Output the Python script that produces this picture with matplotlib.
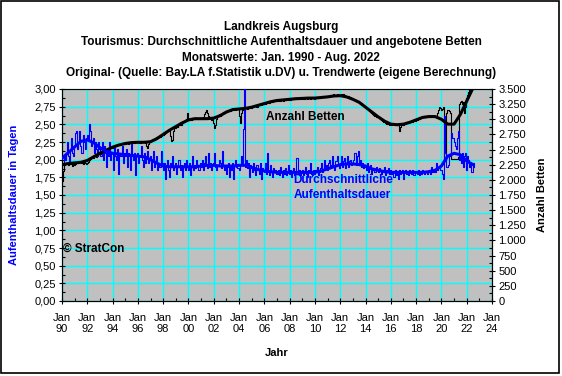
import matplotlib
matplotlib.use("Agg")
import matplotlib.pyplot as plt
import numpy as np
from matplotlib.ticker import FuncFormatter, MultipleLocator

plt.rcParams['font.family'] = ['Liberation Sans', 'DejaVu Sans']

# Monatswerte Jan 1990 - Aug 2022: durchschnittliche Aufenthaltsdauer (Tage)
dauer = [
    1.92, 1.95, 2.05, 2.00, 2.10, 2.25, 2.05, 1.95, 2.15, 2.30, 2.10, 2.05,  # 1990
    2.20, 2.38, 2.40, 2.15, 2.25, 2.40, 2.20, 2.10, 2.35, 2.25, 2.15, 2.30,  # 1991
    2.35, 2.28, 2.50, 2.40, 2.20, 2.25, 2.30, 2.10, 2.25, 2.15, 2.05, 2.25,  # 1992
    2.15, 2.05, 2.25, 2.00, 2.20, 2.10, 1.90, 2.15, 2.05, 2.25, 2.00, 2.10,  # 1993
    2.10, 1.85, 2.20, 2.05, 2.00, 2.15, 1.80, 2.10, 2.05, 2.20, 1.95, 2.10,  # 1994
    2.05, 2.15, 1.90, 2.10, 2.05, 1.85, 2.25, 2.05, 2.00, 2.10, 1.78, 2.05,  # 1995
    2.10, 1.95, 2.05, 2.20, 2.00, 1.90, 2.10, 1.95, 2.05, 2.12, 1.95, 2.00,  # 1996
    2.05, 1.85, 2.00, 2.12, 1.90, 1.95, 2.05, 1.85, 1.95, 1.90, 2.12, 1.95,  # 1997
    1.85, 1.95, 1.72, 1.90, 2.00, 1.85, 1.75, 1.95, 1.90, 2.05, 1.85, 1.90,  # 1998
    1.95, 1.80, 1.90, 2.00, 1.85, 1.92, 1.75, 1.90, 1.95, 1.85, 2.00, 1.90,  # 1999
    1.85, 1.95, 1.78, 1.90, 2.05, 1.85, 1.92, 1.88, 2.00, 1.90, 1.85, 1.95,  # 2000
    1.90, 2.00, 1.85, 1.95, 2.05, 1.92, 1.88, 2.10, 1.90, 1.95, 1.85, 1.92,  # 2001
    1.95, 2.10, 1.90, 1.85, 1.92, 2.00, 1.95, 1.88, 2.12, 1.92, 1.85, 1.90,  # 2002
    1.80, 1.90, 1.95, 1.75, 1.92, 1.85, 1.95, 1.72, 1.92, 2.00, 1.90, 1.88,  # 2003
    1.85, 1.92, 2.05, 1.95, 2.44, 3.10, 1.90, 2.00, 1.88, 1.95, 1.75, 1.92,  # 2004
    1.90, 1.82, 1.95, 1.85, 1.78, 1.92, 1.85, 1.80, 1.95, 1.72, 1.88, 1.85,  # 2005
    1.82, 1.95, 1.80, 2.10, 1.85, 1.78, 1.92, 1.82, 1.75, 1.88, 1.82, 1.85,  # 2006
    1.80, 1.85, 1.78, 1.90, 1.82, 1.75, 1.85, 1.80, 1.88, 1.78, 1.82, 1.92,  # 2007
    1.80, 1.85, 1.75, 1.82, 1.88, 1.78, 1.82, 2.02, 1.80, 1.85, 1.78, 1.82,  # 2008
    1.85, 1.78, 1.82, 1.90, 1.80, 1.75, 1.85, 1.82, 1.95, 1.80, 1.78, 1.85,  # 2009
    1.80, 1.85, 1.90, 1.78, 1.82, 1.88, 1.95, 1.82, 1.85, 2.00, 1.88, 1.92,  # 2010
    1.85, 1.95, 2.00, 1.88, 1.92, 2.05, 1.90, 1.85, 1.98, 2.05, 1.92, 1.88,  # 2011
    1.95, 2.05, 1.90, 1.98, 2.02, 1.88, 1.95, 2.05, 1.90, 1.98, 2.00, 1.92,  # 2012
    1.95, 2.00, 2.10, 1.92, 2.05, 2.12, 1.95, 2.00, 1.90, 1.95, 1.88, 1.92,  # 2013
    1.90, 1.85, 1.95, 1.82, 1.88, 1.92, 1.80, 1.85, 1.88, 1.82, 1.90, 1.85,  # 2014
    1.82, 1.88, 1.85, 1.80, 1.85, 1.82, 1.90, 1.78, 1.85, 1.82, 1.88, 1.80,  # 2015
    1.85, 1.80, 1.82, 1.75, 1.85, 1.78, 1.82, 1.72, 1.85, 1.80, 1.82, 1.85,  # 2016
    1.72, 1.82, 1.85, 1.80, 1.82, 1.78, 1.85, 1.82, 1.80, 1.85, 1.78, 1.82,  # 2017
    1.82, 1.80, 1.85, 1.78, 1.82, 1.80, 1.85, 1.82, 1.80, 1.83, 1.82, 1.80,  # 2018
    1.82, 1.85, 1.80, 1.90, 1.83, 1.85, 1.82, 1.95, 1.85, 1.90, 1.88, 1.85,  # 2019
    1.85, 1.80, 1.72, 2.62, 2.10, 1.90, 1.90, 1.92, 2.07, 2.05, 2.38, 2.30,  # 2020
    2.25, 2.20, 2.15, 2.30, 2.40, 2.00, 2.05, 1.95, 2.10, 1.90, 2.05, 2.10,  # 2021
    1.85, 2.05, 2.00, 1.90, 1.95, 1.82, 1.95, 1.90,                          # 2022
]

# Monatswerte Jan 1990 - Aug 2022: angebotene Betten
betten = [
    1980, 2150, 2240, 2260, 2280, 2270, 2250, 2260, 2280, 2270, 2230, 2260,  # 1990
    2250, 2270, 2290, 2300, 2280, 2290, 2300, 2280, 2270, 2300, 2280, 2260,  # 1991
    2280, 2300, 2320, 2350, 2370, 2380, 2360, 2390, 2400, 2380, 2390, 2420,  # 1992
    2430, 2420, 2450, 2480, 2500, 2470, 2490, 2510, 2500, 2520, 2530, 2540,  # 1993
    2520, 2550, 2560, 2580, 2570, 2590, 2580, 2600, 2590, 2610, 2600, 2610,  # 1994
    2600, 2610, 2620, 2600, 2630, 2620, 2610, 2630, 2620, 2610, 2630, 2620,  # 1995
    2620, 2640, 2610, 2630, 2620, 2640, 2630, 2610, 2560, 2520, 2600, 2630,  # 1996
    2620, 2640, 2650, 2670, 2660, 2690, 2700, 2690, 2720, 2700, 2730, 2740,  # 1997
    2740, 2750, 2770, 2790, 2800, 2820, 2800, 2720, 2640, 2660, 2800, 2850,  # 1998
    2860, 2880, 2870, 2900, 2920, 2910, 2940, 2960, 2950, 2980, 3000, 3100,  # 1999
    2990, 3000, 3010, 2990, 3020, 3010, 3000, 3020, 3010, 3000, 3010, 3020,  # 2000
    3010, 3020, 3040, 3080, 3120, 3150, 3100, 3060, 3020, 3000, 2990, 3010,  # 2001
    2940, 2860, 2900, 3000, 3060, 3080, 3060, 3090, 3110, 3120, 3100, 3130,  # 2002
    3120, 3140, 3150, 3160, 3140, 3170, 3160, 3180, 3170, 3160, 3180, 3170,  # 2003
    3050, 2940, 3100, 3160, 3180, 3170, 3190, 3180, 3170, 3190, 3180, 3200,  # 2004
    3190, 3210, 3200, 3220, 3230, 3210, 3240, 3230, 3250, 3240, 3260, 3250,  # 2005
    3260, 3250, 3270, 3280, 3290, 3270, 3290, 3300, 3290, 3310, 3300, 3320,  # 2006
    3300, 3310, 3320, 3310, 3330, 3320, 3310, 3330, 3320, 3340, 3330, 3320,  # 2007
    3330, 3320, 3340, 3330, 3350, 3340, 3330, 3350, 3340, 3330, 3350, 3340,  # 2008
    3340, 3350, 3340, 3360, 3350, 3340, 3360, 3350, 3340, 3360, 3350, 3360,  # 2009
    3340, 3360, 3350, 3370, 3360, 3350, 3370, 3360, 3380, 3370, 3360, 3380,  # 2010
    3370, 3380, 3390, 3400, 3380, 3390, 3410, 3400, 3390, 3420, 3400, 3390,  # 2011
    3400, 3410, 3390, 3420, 3400, 3380, 3390, 3370, 3380, 3360, 3370, 3350,  # 2012
    3340, 3330, 3320, 3310, 3290, 3300, 3280, 3260, 3270, 3240, 3230, 3210,  # 2013
    3200, 3180, 3170, 3150, 3130, 3120, 3100, 3090, 3070, 3060, 3040, 3030,  # 2014
    3040, 3020, 3000, 2990, 2970, 2960, 2950, 2940, 2930, 2920, 2930, 2910,  # 2015
    2920, 2910, 2930, 2920, 2910, 2900, 2920, 2910, 2800, 2870, 2920, 2900,  # 2016
    2910, 2920, 2930, 2940, 2950, 2940, 2960, 2950, 2970, 2960, 2980, 2970,  # 2017
    2980, 2990, 3000, 3010, 3020, 3030, 3040, 3030, 3050, 3040, 3050, 3040,  # 2018
    3040, 3050, 3040, 3060, 3050, 3040, 3060, 3050, 3100, 3150, 3200, 3180,  # 2019
    3150, 3170, 3200, 2330, 2330, 3100, 3150, 3150, 3130, 3100, 2350, 2340,  # 2020
    2340, 2350, 2340, 2350, 2380, 3250, 3280, 3300, 3250, 3280, 3100, 3200,  # 2021
    3350, 3400, 3450, 3500, 3520, 3550, 3580, 3600,                          # 2022
]

# Trendwerte (Halbjahresstützstellen, Jan/Jul ab 1990)
dauer_trend = [
    2.02, 2.10, 2.18, 2.26, 2.28, 2.24, 2.17, 2.12, 2.09, 2.08,
    2.07, 2.06, 2.05, 2.04, 2.00, 1.95, 1.91, 1.90, 1.90, 1.90,
    1.90, 1.90, 1.91, 1.92, 1.92, 1.91, 1.91, 1.91, 1.92, 1.92,
    1.89, 1.86, 1.84, 1.83, 1.82, 1.82, 1.82, 1.82, 1.82, 1.82,
    1.82, 1.84, 1.87, 1.90, 1.93, 1.94, 1.94, 1.93, 1.91, 1.87,
    1.85, 1.83, 1.82, 1.82, 1.82, 1.82, 1.82, 1.82, 1.83, 1.85,
    1.91, 2.05, 2.09, 2.07, 1.98, 1.93,
]
betten_trend = [
    2250, 2270, 2280, 2290, 2320, 2380, 2440, 2490, 2540, 2575,
    2600, 2615, 2620, 2620, 2630, 2680, 2750, 2820, 2880, 2940,
    2990, 3010, 3010, 3010, 3020, 3060, 3120, 3160, 3170, 3180,
    3200, 3230, 3260, 3290, 3310, 3320, 3330, 3340, 3345, 3350,
    3350, 3360, 3370, 3385, 3390, 3370, 3330, 3280, 3200, 3120,
    3040, 2970, 2920, 2910, 2920, 2950, 2990, 3030, 3045, 3045,
    3000, 2920, 2920, 3080, 3300, 3520,
]

jahre_ticks = list(range(1990, 2025, 2))
tick_labels = ['Jan\n%02d' % (j % 100) for j in jahre_ticks]

x_monat = 1990 + np.arange(len(dauer)) / 12.0
x_trend = 1990 + np.arange(len(dauer_trend)) * 0.5
faktor = 3500 / 3.0  # Tage -> Betten-Skala der rechten Achse

fig = plt.figure(figsize=(5.62, 3.76), dpi=100)
fig.patches.append(plt.Rectangle((0.002, 0.008), 0.993, 0.99, transform=fig.transFigure,
                                 fill=False, edgecolor='black', linewidth=1.2))

ax = fig.add_axes([62 / 562, (376 - 301) / 376, 430 / 562, 212 / 376])
ax.set_facecolor('#C0C0C0')
ax2 = ax.twinx()

# Linien: Originalwerte dünn, Trend dick
ax2.plot(x_monat, betten, color='black', linewidth=0.8, drawstyle='steps-mid', zorder=3)
ax2.plot(x_trend, betten_trend, color='black', linewidth=2.2, zorder=4)
ax2.plot(x_monat, [d * faktor for d in dauer], color='#0000FF', linewidth=0.8,
         drawstyle='steps-mid', zorder=3)
ax2.plot(x_trend, [d * faktor for d in dauer_trend], color='#0000FF', linewidth=2.2, zorder=4)

ax.set_xlim(1990, 2024)
ax.set_ylim(0, 3.0)
ax2.set_ylim(0, 3500)

# Achsen und Gitter
ax.set_axisbelow(True)
ax.xaxis.set_minor_locator(MultipleLocator(1))
ax.set_xticks(jahre_ticks)
ax.set_xticklabels(tick_labels)
ax.yaxis.set_major_locator(MultipleLocator(0.25))
ax.yaxis.set_minor_locator(MultipleLocator(0.125))
ax.yaxis.set_major_formatter(FuncFormatter(lambda v, p: ('%.2f' % v).replace('.', ',')))
ax.grid(True, which='major', color='#00FFFF', linewidth=1.0)

ax2.yaxis.set_major_locator(MultipleLocator(250))
ax2.yaxis.set_minor_locator(MultipleLocator(125))
ax2.yaxis.set_major_formatter(FuncFormatter(lambda v, p: '{:,.0f}'.format(v).replace(',', '.')))

for a in (ax, ax2):
    a.tick_params(which='major', direction='inout', length=5, width=0.8, labelsize=8, pad=2)
    a.tick_params(which='minor', direction='in', length=2.5, width=0.8)
    for s in a.spines.values():
        s.set_linewidth(0.8)
ax.tick_params(axis='x', pad=6)
ax.spines['top'].set_color('#808080')

ax.set_xlabel('Jahr', fontsize=8, fontweight='bold', labelpad=10)
ax.set_ylabel('Aufenthaltsdauer in Tagen', fontsize=8, fontweight='bold', color='#0000FF', labelpad=11)
ax2.set_ylabel('Anzahl Betten', fontsize=8, fontweight='bold', labelpad=8)

ax2.text(2006.1, 2.60 * faktor, 'Anzahl Betten', fontsize=8.5, fontweight='bold',
         va='center', zorder=5)
ax2.text(2012.2, 1.61 * faktor, 'Durchschnittliche\nAufenthaltsdauer', fontsize=8.5,
         fontweight='bold', color='#0000FF', ha='center', va='center', linespacing=1.3, zorder=5)
ax2.text(1990.1, 0.74 * faktor, '© StratCon', fontsize=8.5, fontweight='bold',
         va='center', zorder=5)

titel = ('Landkreis Augsburg\n'
         'Tourismus: Durchschnittliche Aufenthaltsdauer und angebotene Betten\n'
         'Monatswerte: Jan. 1990 - Aug. 2022\n'
         'Original- (Quelle: Bay.LA f.Statistik u.DV) u. Trendwerte (eigene Berechnung)')
fig.text(0.5, 1 - 50 / 376, titel, ha='center', va='center', fontsize=8.5,
         fontweight='bold', linespacing=1.38)

fig.savefig('out.png', dpi=100)
